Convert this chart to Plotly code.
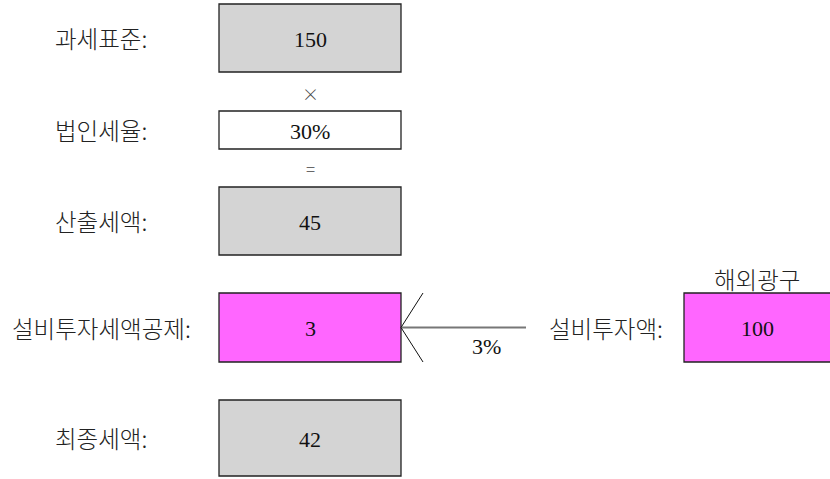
import plotly.graph_objects as go

# ---- data ----
row_labels = ["과세표준:", "법인세율:", "산출세액:", "설비투자세액공제:", "최종세액:"]
row_values = ["150", "30%", "45", "3", "42"]
row_fills = ["#d4d4d4", "#ffffff", "#d4d4d4", "#ff66ff", "#d4d4d4"]
operators = ["×", "="]
side_header = "해외광구"
side_label = "설비투자액:"
side_value = "100"
side_fill = "#ff66ff"
rate_label = "3%"

# ---- layout geometry (pixels in an 830x479 canvas) ----
W, H = 830, 479
box_x0, box_x1 = 219, 401
row_tops = [4, 111, 187, 293, 400]
row_bottoms = [72, 149, 255, 362, 476]
op_y = [93, 168]
label_cx = 101
side_x0, side_x1 = 684, 831

fig = go.Figure()
shapes = []
ann = []
kfont = "Noto Sans CJK KR"
sfont = "Liberation Serif"
kf = dict(family=kfont, size=23.5, color="#222222", weight=300)
nf = dict(family=sfont, size=22, color="#111111")

for lab, val, fill, t, b in zip(row_labels, row_values, row_fills, row_tops, row_bottoms):
    shapes.append(dict(type="rect", xref="x", yref="y", x0=box_x0, x1=box_x1, y0=t, y1=b,
                       fillcolor=fill, line=dict(color="#222222", width=1.3), layer="below"))
    cy = (t + b) / 2
    ann.append(dict(x=(box_x0 + box_x1) / 2, y=cy + 1, text=val, showarrow=False,
                    font=nf, xanchor="center", yanchor="middle"))
    ann.append(dict(x=label_cx, y=cy, text=lab, showarrow=False,
                    font=kf, xanchor="center", yanchor="middle"))

for op, y in zip(operators, op_y):
    ann.append(dict(x=(box_x0 + box_x1) / 2, y=y, text=op, showarrow=False,
                    font=dict(family="Noto Sans CJK KR", size=17, color="#444444", weight=300),
                    xanchor="center", yanchor="middle"))

# side box
t, b = row_tops[3], row_bottoms[3]
cy = (t + b) / 2
shapes.append(dict(type="rect", xref="x", yref="y", x0=side_x0, x1=side_x1, y0=t, y1=b,
                   fillcolor=side_fill, line=dict(color="#222222", width=1.3), layer="below"))
ann.append(dict(x=(side_x0 + 830) / 2, y=cy + 1, text=side_value, showarrow=False,
                font=nf, xanchor="center", yanchor="middle"))
ann.append(dict(x=757, y=279, text=side_header, showarrow=False,
                font=kf, xanchor="center", yanchor="middle"))
ann.append(dict(x=606, y=cy, text=side_label, showarrow=False,
                font=kf, xanchor="center", yanchor="middle"))

# arrow
tip_x = box_x1
shapes.append(dict(type="line", xref="x", yref="y", x0=tip_x, x1=526, y0=cy, y1=cy,
                   line=dict(color="#777777", width=2)))
shapes.append(dict(type="line", xref="x", yref="y", x0=tip_x, x1=423, y0=cy, y1=t,
                   line=dict(color="#111111", width=1)))
shapes.append(dict(type="line", xref="x", yref="y", x0=tip_x, x1=423, y0=cy, y1=b,
                   line=dict(color="#111111", width=1)))
ann.append(dict(x=486, y=346, text=rate_label, showarrow=False,
                font=nf, xanchor="center", yanchor="middle"))

fig.update_layout(
    width=W, height=H, margin=dict(l=0, r=0, t=0, b=0),
    paper_bgcolor="white", plot_bgcolor="white",
    xaxis=dict(range=[0, W], visible=False, fixedrange=True),
    yaxis=dict(range=[H, 0], visible=False, fixedrange=True),
    shapes=shapes, annotations=ann, showlegend=False,
)
fig.write_html("out.html", config={"displayModeBar": False},
               post_script="document.body.style.margin='0';document.body.style.overflow='hidden';")
